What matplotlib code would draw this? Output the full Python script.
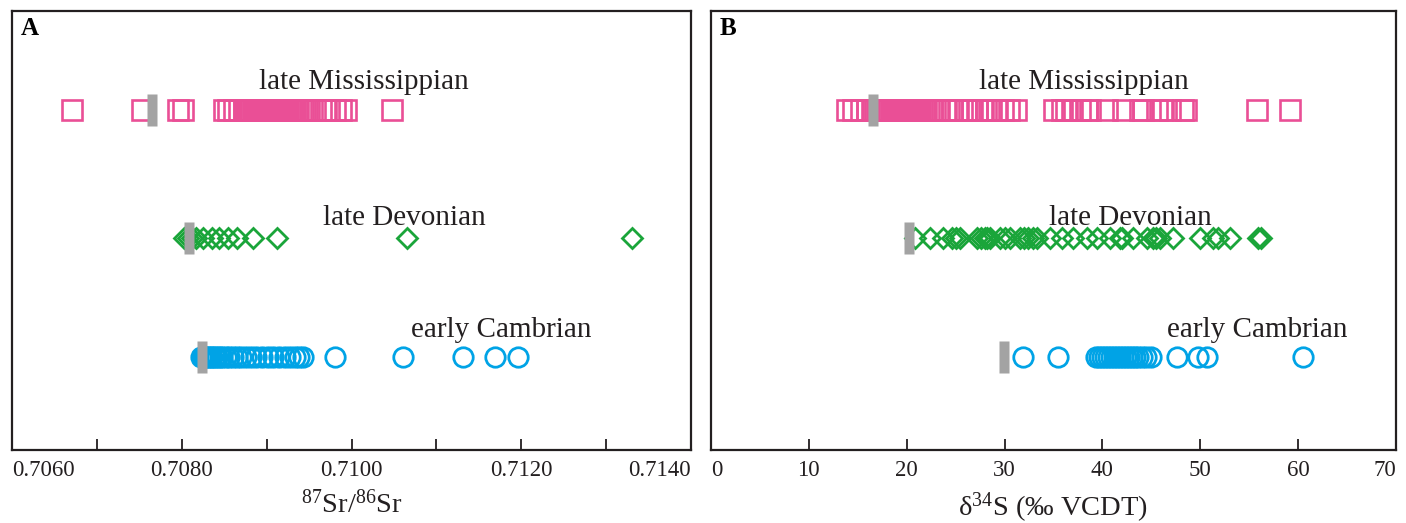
import matplotlib
matplotlib.use('Agg')
import matplotlib.pyplot as plt

plt.rcParams['font.family'] = ['Liberation Serif', 'DejaVu Serif']
plt.rcParams['mathtext.fontset'] = 'custom'
plt.rcParams['mathtext.rm'] = 'Liberation Serif'

# 87Sr/86Sr values (panel A)
sr_miss = [0.70671, 0.70753, 0.70795, 0.70801, 0.70850, 0.70855, 0.70861, 0.70867,
           0.70873, 0.70876, 0.70878, 0.70880, 0.70882, 0.70884, 0.70885, 0.70887,
           0.70889, 0.70891, 0.70893, 0.70895, 0.70896, 0.70898, 0.70900, 0.70902,
           0.70903, 0.70905, 0.70906, 0.70908, 0.70910, 0.70912, 0.70913, 0.70915,
           0.70916, 0.70918, 0.70920, 0.70922, 0.70923, 0.70925, 0.70927, 0.70929,
           0.70930, 0.70932, 0.70934, 0.70936, 0.70937, 0.70940, 0.70943, 0.70947,
           0.70953, 0.70969, 0.70974, 0.70980, 0.70988, 0.70994, 0.71048]
sr_dev = [0.70803, 0.70807, 0.70812, 0.70817, 0.70825, 0.70836, 0.70844, 0.70854,
          0.70865, 0.70884, 0.70912, 0.71065, 0.71330]
sr_camb = [0.70823, 0.70825, 0.70827, 0.70829, 0.70831, 0.70834, 0.70836, 0.70839,
           0.70842, 0.70845, 0.70848, 0.70852, 0.70856, 0.70860, 0.70865, 0.70870,
           0.70876, 0.70882, 0.70888, 0.70895, 0.70902, 0.70908, 0.70915, 0.70922,
           0.70928, 0.70933, 0.70938, 0.70943, 0.70981, 0.71061, 0.71131, 0.71169,
           0.71196]
sr_gray = [0.70765, 0.70809, 0.70824]

# d34S values (panel B)
s_miss = [13.9, 14.5, 15.3, 15.9, 16.5, 16.8, 17.0, 17.2, 17.4, 17.6, 17.8, 18.0,
          18.2, 18.4, 18.6, 18.8, 19.0, 19.2, 19.4, 19.6, 19.8, 20.0, 20.2, 20.4,
          20.6, 20.8, 21.0, 21.2, 21.4, 21.6, 21.8, 22.0, 22.3, 22.6, 22.9, 23.3,
          23.9, 24.6, 25.2, 26.1, 26.4, 26.7, 27.2, 27.7, 28.1, 28.6, 29.2, 29.8,
          30.5, 31.2, 35.1, 35.9, 36.3, 36.9, 37.7, 38.4, 38.7, 40.5, 42.1, 43.8,
          44.1, 45.6, 46.1, 46.9, 48.2, 48.5, 55.8, 59.2]
s_dev = [20.8, 22.4, 23.7, 24.6, 25.0, 25.4, 27.2, 27.6, 28.0, 28.2, 28.5, 29.5,
         30.0, 30.6, 31.6, 32.0, 32.4, 32.9, 33.3, 34.6, 35.9, 37.0, 38.4, 39.4,
         40.8, 41.8, 42.0, 43.1, 44.6, 45.2, 45.5, 45.9, 47.2, 50.0, 51.3, 51.8,
         53.0, 55.9, 56.2]
s_camb = [31.9, 35.5, 39.3, 39.7, 40.0, 40.3, 40.6, 40.9, 41.2, 41.5, 41.8, 42.1,
          42.4, 42.7, 43.0, 43.3, 43.6, 44.0, 44.5, 45.0, 47.6, 49.8, 50.7, 60.5]
s_gray = [16.6, 20.2, 29.9]

periods = ['late Mississippian', 'late Devonian', 'early Cambrian']
rows = [3.0, 1.96, 1.0]

pink = '#ea4f96'
green = '#1aa53a'
blue = '#00a3e6'
gray = '#a3a3a3'
dark = '#231f20'

bar_marker = [(-0.156, -0.5), (0.156, -0.5), (0.156, 0.5), (-0.156, 0.5), (-0.156, -0.5)]


def draw_panel(ax, miss, dev, camb, grays, xlim, letter, xlabel, text_x):
    ax.plot(miss, [rows[0]] * len(miss), ls='none', marker='s', ms=14.6,
            mfc='none', mec=pink, mew=1.9)
    ax.plot(dev, [rows[1]] * len(dev), ls='none', marker='D', ms=10.2,
            mfc='none', mec=green, mew=2.0)
    ax.plot(camb, [rows[2]] * len(camb), ls='none', marker='o', ms=14,
            mfc='none', mec=blue, mew=2.0)
    ax.plot(grays, rows, ls='none', marker=bar_marker, ms=23, mfc=gray,
            mec='none', zorder=5)

    offsets = [0.17, 0.11, 0.16]
    for name, tx, r, off in zip(periods, text_x, rows, offsets):
        ax.text(tx, r + off, name, ha='center', va='baseline', fontsize=21,
                color=dark)

    ax.text(0.013, 0.986, letter, transform=ax.transAxes, ha='left', va='top',
            fontsize=18, fontweight='bold', color='black')

    ax.set_xlim(*xlim)
    ax.set_ylim(0.247, 3.80)
    ax.set_yticks([])
    for sp in ax.spines.values():
        sp.set_linewidth(1.6)
        sp.set_color(dark)
    ax.tick_params(axis='x', which='both', direction='in', length=8, width=1.3,
                   color=dark, labelsize=16.5, pad=7, labelcolor=dark)
    ax.set_xlabel(xlabel, fontsize=20.5, labelpad=7, color=dark)


fig = plt.figure(figsize=(14.06, 5.23), dpi=100)
axA = fig.add_axes([12 / 1406, 73 / 523, 679 / 1406, 439 / 523])
axB = fig.add_axes([711 / 1406, 73 / 523, 685 / 1406, 439 / 523])

draw_panel(axA, sr_miss, sr_dev, sr_camb, sr_gray, (0.7060, 0.7140), 'A',
           r'$\mathregular{^{87}Sr/^{86}Sr}$', [0.71014, 0.71062, 0.71176])
axA.set_xticks([0.7060, 0.7080, 0.7100, 0.7120, 0.7140])
axA.set_xticklabels(['0.7060', '0.7080', '0.7100', '0.7120', '0.7140'])
axA.set_xticks([0.7070, 0.7090, 0.7110, 0.7130], minor=True)

draw_panel(axB, s_miss, s_dev, s_camb, s_gray, (0, 70), 'B',
           r'δ$\mathregular{^{34}}$S (‰ VCDT)', [38.1, 42.9, 55.8])
axB.set_xticks([0, 10, 20, 30, 40, 50, 60, 70])

for ax in (axA, axB):
    labels = ax.get_xticklabels()
    labels[0].set_horizontalalignment('left')
    labels[-1].set_horizontalalignment('right')

fig.savefig('out.png', dpi=100)
